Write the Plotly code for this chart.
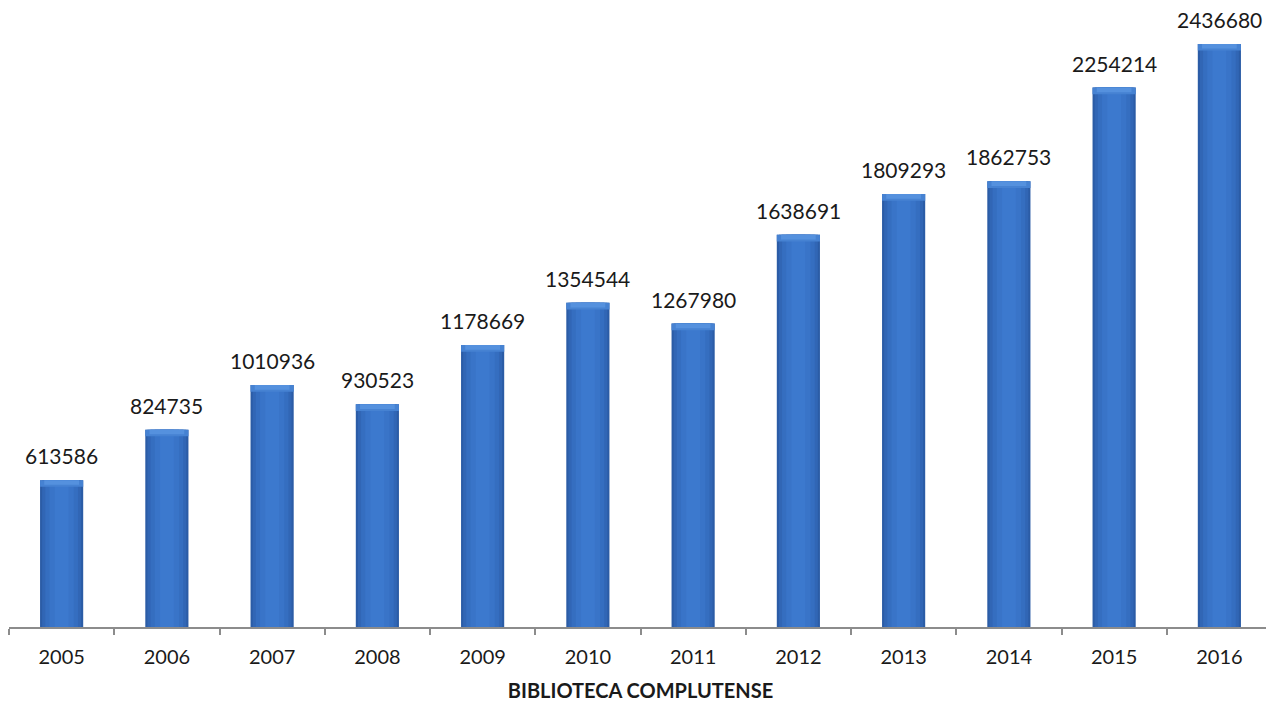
import plotly.graph_objects as go

years = ["2005", "2006", "2007", "2008", "2009", "2010", "2011", "2012", "2013", "2014", "2015", "2016"]
values = [613586, 824735, 1010936, 930523, 1178669, 1354544, 1267980, 1638691, 1809293, 1862753, 2254214, 2436680]
axis_title = "BIBLIOTECA COMPLUTENSE"

fig = go.Figure()

layers = [
    (0.41, "#2B5CA6"),
    (0.37, "#3166B5"),
    (0.31, "#356EC0"),
    (0.23, "#3974C8"),
    (0.13, "#3C79CE"),
]
for w, c in layers:
    fig.add_trace(go.Bar(
        x=years, y=values, width=w,
        marker=dict(color=c, line=dict(width=0)),
        hoverinfo="skip", showlegend=False,
    ))

# lighter bevel cap at the top of each bar
cap = 28000
fig.add_trace(go.Bar(
    x=years, y=[cap] * len(values), base=[v - cap for v in values], width=0.41,
    marker=dict(color="#4682D2", line=dict(width=0)),
    hoverinfo="skip", showlegend=False,
))
fig.add_trace(go.Bar(
    x=years, y=[cap * 0.7] * len(values), base=[v - cap * 0.7 for v in values], width=0.33,
    marker=dict(color="#5591DE", line=dict(width=0)),
    hoverinfo="skip", showlegend=False,
))

for i, v in enumerate(values):
    fig.add_annotation(
        x=i, y=v, xref="x", yref="y", text=str(v), showarrow=False,
        yanchor="bottom", yshift=10,
        font=dict(family="Lato", size=21, color="#1a1a1a"),
    )

fig.update_layout(
    width=1266, height=694,
    barmode="overlay",
    plot_bgcolor="white", paper_bgcolor="white",
    margin=dict(l=1, r=2, t=6, b=75),
    xaxis=dict(
        type="category", range=[-0.5, 11.5],
        showline=True, linecolor="#8C8C8C", linewidth=1.5,
        ticks="outside", tickson="boundaries", ticklen=6, tickcolor="#8C8C8C", tickwidth=1.5,
        ticklabelstandoff=11,
        tickfont=dict(family="Lato", size=20, color="#1a1a1a"),
        title=dict(text="<b>" + axis_title + "</b>", font=dict(family="Lato", size=20, color="#1a1a1a"), standoff=21),
        showgrid=False, automargin=False,
    ),
    yaxis=dict(range=[0, 2561600], visible=False, showgrid=False, zeroline=False),
)

fig.write_html("out.html")
